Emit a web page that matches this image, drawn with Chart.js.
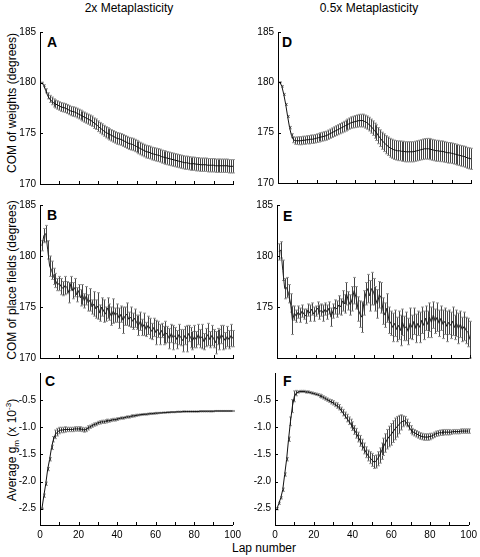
<!DOCTYPE html>
<html>
<head>
<meta charset="utf-8">
<script src="https://cdn.jsdelivr.net/npm/chart.js@4.4.0/dist/chart.umd.min.js"></script>
<style>
  body { margin: 0; background: #fff; width: 480px; height: 557px; position: relative; overflow: hidden;
         font-family: "Liberation Sans", Arial, sans-serif; color: #000; }
  canvas { position: absolute; }
  .txt { position: absolute; white-space: nowrap; font-size: 12px; line-height: 14px; }
  .ctr { transform: translateX(-50%); }
  .ylab { transform: translate(-50%, -50%) rotate(-90deg); }
  .letter { position: absolute; font-weight: bold; font-size: 14px; line-height: 14px; }
  sub, sup { font-size: 8px; line-height: 0; }
</style>
</head>
<body>
<div class="txt ctr" style="left:129px; top:1px">2x Metaplasticity</div>
<div class="txt ctr" style="left:369px; top:1px">0.5x Metaplasticity</div>
<div class="txt ylab" style="left:12px; top:103px">COM of weights (degrees)</div>
<div class="txt ylab" style="left:12px; top:280px">COM of place fields (degrees)</div>
<div class="txt ylab" style="left:12px; top:450px">Average g<sub>m</sub> (x 10<sup>-3</sup>)</div>
<div class="txt ctr" style="left:264px; top:541px">Lap number</div>
<div class="letter" style="left:47px; top:35px">A</div>
<div class="letter" style="left:47px; top:208px">B</div>
<div class="letter" style="left:45px; top:374px">C</div>
<div class="letter" style="left:282px; top:35px">D</div>
<div class="letter" style="left:283px; top:209px">E</div>
<div class="letter" style="left:283px; top:374px">F</div>
<script>
// lap numbers 1..100
const laps = Array.from({ length: 100 }, (_, i) => i + 1);
const xTicks = [0, 10, 20, 30, 40, 50, 60, 70, 80, 90, 100];
const degTicks = [170, 175, 180, 185];
const gmTicks = [-2.5, -2.0, -1.5, -1.0, -0.5];

// A: COM of weights, 2x
const meanA = [180.0,179.7,179.2,178.7,178.4,178.2,178.0,177.9,177.8,177.7,
  177.6,177.55,177.5,177.4,177.3,177.2,177.15,177.1,177.0,176.9,
  176.8,176.7,176.6,176.5,176.4,176.3,176.2,176.0,175.9,175.7,
  175.55,175.4,175.25,175.1,175.0,174.9,174.8,174.7,174.6,174.5,
  174.45,174.4,174.3,174.2,174.1,174.0,173.95,173.9,173.8,173.7,
  173.6,173.5,173.4,173.3,173.2,173.15,173.1,173.0,172.95,172.9,
  172.85,172.8,172.7,172.65,172.6,172.55,172.5,172.45,172.4,172.35,
  172.3,172.25,172.2,172.15,172.1,172.1,172.05,172.0,172.0,172.0,
  171.95,171.95,171.9,171.9,171.9,171.9,171.85,171.85,171.85,171.85,
  171.8,171.8,171.8,171.8,171.8,171.8,171.8,171.75,171.75,171.75];
const errA = [0.05,0.1,0.2,0.3,0.35,0.38,0.4,0.4,0.42,0.42,
  0.44,0.44,0.45,0.45,0.46,0.46,0.47,0.47,0.48,0.48,
  0.49,0.49,0.5,0.5,0.5,0.51,0.51,0.52,0.52,0.53,
  0.53,0.54,0.54,0.55,0.55,0.56,0.56,0.57,0.57,0.58,
  0.58,0.58,0.59,0.59,0.6,0.6,0.6,0.61,0.61,0.61,
  0.62,0.62,0.62,0.62,0.63,0.63,0.63,0.63,0.64,0.64,
  0.64,0.64,0.64,0.65,0.65,0.65,0.65,0.65,0.65,0.65,
  0.65,0.65,0.65,0.65,0.65,0.65,0.65,0.65,0.65,0.65,
  0.66,0.66,0.66,0.66,0.66,0.66,0.66,0.66,0.66,0.66,
  0.66,0.66,0.66,0.66,0.66,0.66,0.66,0.66,0.66,0.66];

// B: COM of place fields, 2x
const meanB = [181.0,182.0,182.2,180.6,179.0,178.6,178.0,177.6,177.2,177.3,
  177.0,176.8,177.1,176.9,176.4,177.3,176.6,176.9,176.2,176.6,
  175.9,176.2,175.6,176.1,175.4,175.7,175.0,175.3,174.8,175.1,
  174.4,175.0,174.6,174.3,174.9,174.5,174.1,174.6,174.2,174.4,
  173.9,174.3,173.7,174.1,174.3,173.8,174.0,173.6,173.9,173.5,
  173.2,173.6,173.0,173.3,172.8,173.2,172.9,172.6,173.0,172.5,
  172.8,172.3,172.7,172.2,172.5,172.3,171.9,172.4,172.0,172.2,
  171.8,172.3,172.0,171.7,172.2,171.9,172.4,172.0,171.7,172.1,
  171.8,172.3,171.9,172.1,171.6,172.0,172.3,171.8,172.2,171.9,
  171.5,172.1,171.8,172.3,172.0,171.7,172.1,171.8,172.2,171.9];
const errB = [0.5,0.7,0.8,0.9,1.0,0.9,0.8,0.7,0.6,0.7,
  0.8,0.7,0.9,0.6,1.0,0.7,0.8,0.9,0.7,0.6,
  0.8,1.0,0.7,0.9,0.8,1.1,0.7,1.2,0.9,1.3,
  0.8,0.9,1.1,0.7,1.0,0.8,0.9,1.2,0.7,0.9,
  1.0,0.8,1.3,0.9,1.1,0.7,1.0,0.8,0.9,0.7,
  1.0,0.9,0.8,1.1,0.7,0.9,1.0,0.8,0.9,1.2,
  0.8,1.0,0.7,0.9,1.1,0.8,1.0,0.9,1.2,0.8,
  0.9,1.0,0.8,1.1,0.9,1.3,0.8,1.0,0.9,1.1,
  0.8,1.0,0.9,1.2,0.8,0.9,1.1,0.8,1.0,0.9,
  1.1,0.8,1.0,0.9,1.2,0.8,1.0,0.9,1.1,0.8];

// C: average gm, 2x
const meanC = [-2.50,-2.26,-2.04,-1.77,-1.59,-1.37,-1.22,-1.13,-1.09,-1.06,
  -1.05,-1.05,-1.04,-1.04,-1.04,-1.04,-1.04,-1.03,-1.03,-1.03,
  -1.03,-1.04,-1.05,-1.04,-1.01,-0.99,-0.97,-0.95,-0.94,-0.92,
  -0.91,-0.90,-0.90,-0.89,-0.88,-0.88,-0.87,-0.86,-0.86,-0.85,
  -0.84,-0.83,-0.83,-0.82,-0.81,-0.81,-0.80,-0.79,-0.79,-0.78,
  -0.775,-0.77,-0.765,-0.76,-0.76,-0.755,-0.75,-0.75,-0.745,-0.74,
  -0.74,-0.735,-0.735,-0.73,-0.73,-0.725,-0.725,-0.72,-0.72,-0.72,
  -0.715,-0.715,-0.715,-0.71,-0.71,-0.71,-0.71,-0.71,-0.71,-0.71,
  -0.71,-0.71,-0.705,-0.705,-0.705,-0.705,-0.705,-0.705,-0.705,-0.705,
  -0.70,-0.70,-0.70,-0.70,-0.70,-0.70,-0.70,-0.70,-0.70,-0.70];
const errC = [0.01,0.03,0.03,0.03,0.03,0.04,0.05,0.08,0.07,0.06,
  0.05,0.05,0.05,0.04,0.04,0.04,0.04,0.04,0.04,0.04,
  0.04,0.04,0.04,0.04,0.04,0.03,0.03,0.03,0.03,0.03,
  0.03,0.03,0.03,0.03,0.03,0.025,0.025,0.025,0.025,0.025,
  0.02,0.02,0.02,0.02,0.02,0.02,0.02,0.02,0.02,0.02,
  0.015,0.015,0.015,0.015,0.015,0.015,0.015,0.015,0.015,0.015,
  0.01,0.01,0.01,0.01,0.01,0.01,0.01,0.01,0.01,0.01,
  0.01,0.01,0.01,0.01,0.01,0.01,0.01,0.01,0.01,0.01,
  0.01,0.01,0.01,0.01,0.01,0.01,0.01,0.01,0.01,0.01,
  0.01,0.01,0.01,0.01,0.01,0.01,0.01,0.01,0.01,0.01];

// D: COM of weights, 0.5x
const meanD = [180.0,179.6,178.8,177.8,176.6,175.5,174.7,174.3,174.2,174.2,
  174.2,174.2,174.25,174.25,174.3,174.3,174.35,174.35,174.4,174.45,
  174.5,174.55,174.6,174.65,174.7,174.8,174.9,175.0,175.1,175.2,
  175.3,175.4,175.5,175.6,175.7,175.8,175.9,176.0,176.05,176.1,
  176.15,176.2,176.2,176.2,176.1,176.0,175.85,175.65,175.45,175.2,
  175.0,174.7,174.45,174.2,174.0,173.8,173.65,173.5,173.4,173.3,
  173.25,173.2,173.2,173.15,173.15,173.1,173.1,173.1,173.1,173.1,
  173.15,173.2,173.25,173.3,173.35,173.4,173.4,173.4,173.35,173.3,
  173.25,173.2,173.2,173.15,173.15,173.1,173.05,173.0,173.0,172.95,
  172.9,172.85,172.8,172.75,172.7,172.65,172.6,172.5,172.45,172.4];
const errD = [0.05,0.08,0.1,0.1,0.1,0.12,0.2,0.3,0.35,0.38,
  0.4,0.4,0.4,0.4,0.4,0.42,0.42,0.42,0.42,0.43,
  0.43,0.44,0.44,0.45,0.45,0.46,0.46,0.47,0.48,0.49,
  0.5,0.51,0.52,0.53,0.54,0.55,0.56,0.57,0.58,0.6,
  0.61,0.62,0.63,0.64,0.65,0.66,0.68,0.7,0.72,0.75,
  0.78,0.8,0.83,0.85,0.88,0.9,0.92,0.94,0.95,0.96,
  0.97,0.98,0.98,0.99,1.0,1.0,1.0,1.0,1.0,1.0,
  1.0,1.0,1.0,1.0,1.02,1.02,1.03,1.03,1.04,1.04,
  1.04,1.04,1.04,1.03,1.03,1.03,1.02,1.02,1.02,1.02,
  1.02,1.02,1.02,1.02,1.03,1.03,1.04,1.04,1.05,1.05];

// E: COM of place fields, 0.5x
const meanE = [180.4,180.6,178.6,176.8,176.9,176.3,175.4,173.7,174.4,174.1,
  174.5,174.2,174.6,174.3,174.1,174.7,174.4,174.8,174.3,174.6,
  174.9,174.5,174.7,174.4,174.8,174.5,174.9,174.0,174.6,175.0,
  174.8,175.2,175.0,175.6,175.3,176.3,175.6,175.2,175.8,176.6,
  175.9,174.8,174.3,174.0,175.4,176.3,176.8,176.1,176.8,176.5,
  175.8,175.3,176.2,175.9,174.6,174.2,174.9,173.7,173.4,173.0,
  173.4,172.8,173.2,172.7,173.5,172.9,173.1,172.6,173.4,173.0,
  173.6,172.9,173.4,173.0,173.7,173.2,173.9,173.3,174.0,173.5,
  174.2,173.6,174.0,173.4,173.9,173.3,173.6,173.1,173.5,173.2,
  173.6,173.0,173.4,172.9,173.3,172.8,173.1,172.7,172.5,171.8];
const errE = [0.8,0.8,1.0,1.0,1.0,0.9,0.9,1.4,0.7,0.6,
  0.6,0.7,0.6,0.5,0.7,0.6,0.8,0.6,0.7,0.5,
  0.6,0.7,0.6,0.8,0.6,0.7,0.6,0.9,0.7,0.7,
  0.8,0.9,0.8,1.0,0.9,1.1,0.9,1.0,1.2,1.3,
  1.1,1.2,1.3,1.5,1.2,1.1,1.4,1.5,1.6,1.3,
  1.2,1.4,1.3,1.5,1.3,1.2,1.4,1.3,1.2,1.4,
  1.3,1.2,1.4,1.5,1.3,1.2,1.4,1.3,1.5,1.2,
  1.3,1.4,1.2,1.5,1.3,1.4,1.2,1.3,1.4,1.5,
  1.3,1.2,1.4,1.3,1.2,1.4,1.3,1.5,1.2,1.3,
  1.4,1.2,1.3,1.5,1.3,1.2,1.4,1.3,1.4,1.8];

// F: average gm, 0.5x
const meanF = [-2.50,-2.40,-2.30,-2.15,-1.87,-1.59,-1.22,-0.89,-0.61,-0.43,
  -0.37,-0.35,-0.34,-0.34,-0.34,-0.35,-0.35,-0.36,-0.37,-0.38,
  -0.39,-0.40,-0.42,-0.43,-0.45,-0.47,-0.49,-0.51,-0.53,-0.55,
  -0.58,-0.60,-0.63,-0.68,-0.73,-0.78,-0.83,-0.88,-0.93,-0.98,
  -1.05,-1.11,-1.18,-1.25,-1.32,-1.39,-1.46,-1.52,-1.56,-1.60,
  -1.64,-1.63,-1.58,-1.52,-1.44,-1.36,-1.29,-1.22,-1.17,-1.13,
  -1.08,-1.03,-0.99,-0.95,-0.91,-0.89,-0.88,-0.92,-0.98,-1.04,
  -1.08,-1.10,-1.12,-1.14,-1.16,-1.17,-1.18,-1.18,-1.18,-1.17,
  -1.16,-1.14,-1.12,-1.11,-1.10,-1.10,-1.09,-1.09,-1.09,-1.09,
  -1.09,-1.08,-1.08,-1.08,-1.08,-1.07,-1.07,-1.07,-1.07,-1.07];
const errF = [0.02,0.02,0.02,0.03,0.03,0.03,0.04,0.08,0.12,0.1,
  0.05,0.02,0.02,0.02,0.02,0.02,0.02,0.02,0.02,0.02,
  0.02,0.02,0.03,0.03,0.03,0.03,0.03,0.03,0.04,0.04,
  0.04,0.05,0.05,0.05,0.06,0.06,0.07,0.07,0.08,0.08,
  0.08,0.09,0.09,0.1,0.1,0.1,0.1,0.1,0.11,0.12,
  0.12,0.12,0.13,0.14,0.15,0.16,0.17,0.18,0.19,0.2,
  0.2,0.2,0.19,0.17,0.14,0.1,0.08,0.07,0.07,0.07,
  0.06,0.06,0.06,0.06,0.06,0.06,0.06,0.06,0.06,0.06,
  0.05,0.05,0.05,0.05,0.05,0.05,0.05,0.05,0.05,0.05,
  0.04,0.04,0.04,0.04,0.04,0.04,0.04,0.04,0.04,0.04];

Chart.defaults.font.family = '"Liberation Sans", Arial, sans-serif';
Chart.defaults.font.size = 10;
Chart.defaults.color = '#000';

// vertical error bars with small gray caps, drawn under the mean line
const errorBars = {
  id: 'errorBars',
  beforeDatasetsDraw(chart) {
    const ds = chart.data.datasets[0];
    const xs = chart.scales.x, ys = chart.scales.y, ctx = chart.ctx;
    ctx.save();
    ds.data.forEach((p, i) => {
      const e = ds.errors[i];
      const x = Math.round(xs.getPixelForValue(p.x)) + 0.5;
      const y1 = ys.getPixelForValue(p.y + e), y2 = ys.getPixelForValue(p.y - e);
      ctx.strokeStyle = '#444'; ctx.lineWidth = 1;
      ctx.beginPath(); ctx.moveTo(x, y1); ctx.lineTo(x, y2); ctx.stroke();
      ctx.strokeStyle = '#999';
      ctx.beginPath();
      ctx.moveTo(x - 1.5, y1); ctx.lineTo(x + 1.5, y1);
      ctx.moveTo(x - 1.5, y2); ctx.lineTo(x + 1.5, y2);
      ctx.stroke();
    });
    ctx.restore();
  }
};

// short tick marks pointing into the plot
const inwardTicks = {
  id: 'inwardTicks',
  afterDraw(chart) {
    const xs = chart.scales.x, ys = chart.scales.y, ctx = chart.ctx, a = chart.chartArea;
    ctx.save();
    ctx.strokeStyle = '#000'; ctx.lineWidth = 1;
    ctx.beginPath();
    xs.ticks.forEach(t => {
      const x = Math.round(xs.getPixelForValue(t.value)) + 0.5;
      ctx.moveTo(x, a.bottom); ctx.lineTo(x, a.bottom - 3);
    });
    ys.ticks.forEach(t => {
      const y = Math.round(ys.getPixelForValue(t.value)) + 0.5;
      ctx.moveTo(a.left, y); ctx.lineTo(a.left + 3, y);
    });
    ctx.stroke();
    ctx.restore();
  }
};

const panels = [
  { mean: meanA, err: errA, yMin: 170, yMax: 185, yTicks: degTicks, left: 40, top: 32, w: 193, h: 152, xLab: false, line: '#111' },
  { mean: meanB, err: errB, yMin: 170, yMax: 185, yTicks: degTicks, left: 40, top: 205, w: 193, h: 153, xLab: false, line: '#222' },
  { mean: meanC, err: errC, yMin: -2.8, yMax: 0, yTicks: gmTicks, left: 40, top: 373, w: 193, h: 152, xLab: true, line: '#111' },
  { mean: meanD, err: errD, yMin: 170, yMax: 185, yTicks: degTicks, left: 278, top: 32, w: 193, h: 151, xLab: false, line: '#111' },
  { mean: meanE, err: errE, yMin: 170, yMax: 185, yTicks: degTicks, left: 277, top: 205, w: 193, h: 153, xLab: false, line: '#222', hide: [170] },
  { mean: meanF, err: errF, yMin: -2.8, yMax: 0, yTicks: gmTicks, left: 275, top: 373, w: 194, h: 152, xLab: true, line: '#111' }
];

panels.forEach(p => {
  const padL = 40, padT = 10, padR = 12, padB = p.xLab ? 22 : 10;
  const cv = document.createElement('canvas');
  cv.width = p.w + padL + padR;
  cv.height = p.h + padT + padB;
  cv.style.left = (p.left - padL) + 'px';
  cv.style.top = (p.top - padT) + 'px';
  document.body.appendChild(cv);

  new Chart(cv, {
    type: 'line',
    data: {
      datasets: [{
        data: laps.map((l, i) => ({ x: l, y: p.mean[i] })),
        errors: p.err,
        borderColor: p.line,
        borderWidth: 1,
        pointRadius: 0,
        tension: 0,
        fill: false
      }]
    },
    options: {
      responsive: false,
      animation: false,
      devicePixelRatio: 1,
      layout: { padding: { left: 0, top: padT, right: padR, bottom: 0 } },
      plugins: { legend: { display: false }, tooltip: { enabled: false } },
      scales: {
        x: {
          type: 'linear', min: 0, max: 100,
          afterBuildTicks: s => { s.ticks = xTicks.map(v => ({ value: v })); },
          afterFit: s => { s.height = padB; },
          grid: { display: false, drawTicks: false },
          border: { display: true, color: '#000', width: 1 },
          ticks: {
            display: p.xLab, autoSkip: false, maxRotation: 0, padding: 4,
            callback: v => (v % 20 === 0 ? String(v) : '')
          }
        },
        y: {
          type: 'linear', min: p.yMin, max: p.yMax,
          afterBuildTicks: s => { s.ticks = p.yTicks.map(v => ({ value: v })); },
          afterFit: s => { s.width = padL; },
          grid: { display: false, drawTicks: false },
          border: { display: true, color: '#000', width: 1 },
          ticks: {
            autoSkip: false, padding: 4,
            callback: v => {
              if (p.hide && p.hide.includes(v)) return '';
              return p.yMin < 0 ? v.toFixed(1) : String(v);
            }
          }
        }
      }
    },
    plugins: [errorBars, inwardTicks]
  });
});
</script>
</body>
</html>
